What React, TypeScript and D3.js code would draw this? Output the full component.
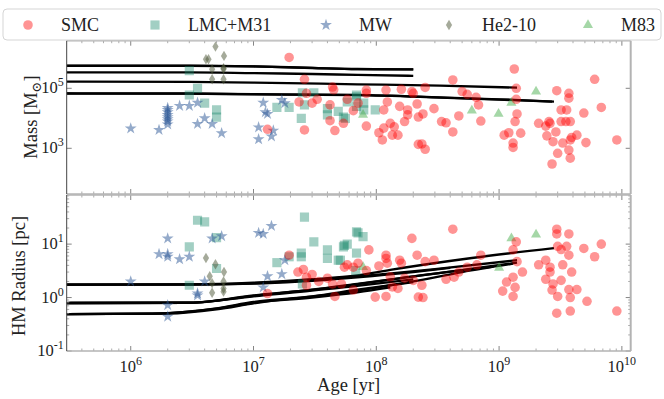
import React from 'react';
import * as d3 from 'd3';

const W = 664;
const H = 399;

// [age (yr), mass (Msun)]
const smcMass = [
  [1.95e7, 1.07e6], [2.6e7, 2.0e5], [2.7e7, 6.8e4], [2.35e7, 3.5e4], [3.0e7, 3.2e4], [3.3e7, 4.3e4],
  [2.6e7, 4.1e3], [1.3e7, 4.3e3], [4.2e7, 2.8e4], [4.4e7, 1.1e5], [4.5e7, 8.9e4], [4.2e7, 8.3e3],
  [4.6e7, 3.9e3], [5.4e7, 6.8e3], [5.8e7, 4.3e4], [6.5e7, 1.8e4], [7.1e7, 3.2e4], [8.3e7, 8.7e4],
  [8.3e7, 6.8e4], [8.3e7, 5.5e3], [1.2e8, 8.7e4], [1.23e8, 3.5e4], [1.15e8, 1.9e4], [1.05e8, 3.3e3],
  [1.15e8, 4.7e3], [1.12e8, 1.9e3], [1.3e8, 6.8e3], [1.35e8, 2.75e3], [1.4e8, 5.2e3], [1.5e8, 2.75e3],
  [1.55e8, 2.5e4], [1.6e8, 9.3e4], [1.7e8, 7.8e3], [1.8e8, 1.9e4], [1.8e8, 1.3e4], [1.95e8, 7.8e4],
  [2.0e8, 6.8e4], [2.15e8, 3.0e4], [2.2e8, 1.1e4], [2.4e8, 1.4e4], [2.5e8, 1.07e5], [2.2e8, 1.35e3],
  [2.35e8, 1.4e3], [2.5e8, 9.3e2], [2.95e8, 2.1e4], [3.4e8, 7.8e3], [3.7e8, 7.1e3], [4.2e8, 3.5e3],
  [4.2e8, 1.9e5], [4.7e8, 1.2e4], [5.0e8, 7.8e4], [5.5e8, 6.3e4], [6.5e8, 5.0e4], [6.8e8, 2.8e4],
  [7.1e8, 8.1e3], [1.1e9, 2.75e3], [1.2e9, 3.3e3], [1.3e9, 1.5e3], [1.3e9, 1.07e3], [1.33e9, 4.4e5],
  [1.38e9, 1.0e5], [1.38e9, 4.3e4], [1.35e9, 7.8e3], [1.4e9, 1.4e4], [1.5e9, 3.2e3], [2.1e9, 6.8e3],
  [2.4e9, 5.5e3], [2.45e9, 2.6e3], [2.6e9, 6.8e3], [2.7e9, 3.0e2], [2.75e9, 1.66e3], [2.9e9, 3.5e3],
  [2.95e9, 8.3e4], [3.0e9, 6.8e2], [3.2e9, 7.8e3], [3.2e9, 1.9e4], [3.3e9, 1.5e3], [3.5e9, 7.8e3],
  [3.55e9, 1.9e4], [3.7e9, 6.8e4], [3.7e9, 4.7e4], [3.7e9, 8.7e2], [3.8e9, 4.7e2], [3.8e9, 1.9e3],
  [3.8e9, 7.8e3], [3.9e9, 2.3e3], [4.3e9, 2.75e3], [4.9e9, 1.5e4], [5.1e9, 1.55e3], [6.0e9, 2.0e5],
  [6.8e9, 2.3e4], [9.1e9, 1.9e3], [2.55e9, 7.8e3],
];
const lmcMass = [
  [3.0e6, 3.9e5], [3.5e6, 1.0e5], [3.0e6, 6.0e4], [4.0e6, 3.2e4], [5.0e6, 1.9e4], [5.0e6, 1.1e4],
  [1.55e7, 2.3e4], [1.95e7, 2.3e4], [2.5e7, 7.1e4], [3.1e7, 7.1e4], [2.45e7, 1.0e4], [2.6e7, 2.8e4],
  [4.0e7, 2.1e4], [4.0e7, 1.3e4], [4.9e7, 1.7e4], [5.6e7, 1.0e4], [6.9e7, 6.0e4], [6.9e7, 2.5e4],
  [6.9e7, 5.2e4], [7.9e7, 3.2e4], [7.9e7, 1.9e4], [5.4e7, 1.1e4], [9.8e7, 1.9e4], [5.8e7, 3.5e4],
];
const mwMass = [
  [1.0e6, 4.6e3], [1.7e6, 4.1e3], [2.0e6, 2.2e4], [2.0e6, 1.9e4], [2.0e6, 1.6e4], [2.0e6, 1.3e4],
  [2.0e6, 1.1e4], [2.0e6, 9.3e3], [2.0e6, 7.9e3], [2.0e6, 6.3e3], [2.5e6, 2.6e4], [3.0e6, 2.6e4],
  [3.5e6, 3.3e4], [4.0e6, 1.0e4], [3.5e6, 6.5e3], [4.6e6, 6.5e3], [5.5e6, 3.2e3], [1.1e7, 5.0e3],
  [1.1e7, 2.0e3], [1.2e7, 3.3e4], [1.3e7, 1.4e4], [1.25e7, 1.6e4], [1.4e7, 2.5e3], [1.45e7, 3.9e3],
  [1.7e7, 4.1e4], [1.8e7, 3.2e4],
];
const he210Mass = [
  [4.9e6, 2.45e6], [4.1e6, 9.3e5], [4.3e6, 9.3e5], [5.75e6, 1.2e6], [5.7e6, 4.7e5], [4.6e6, 4.3e5],
  [4.6e6, 2.0e5], [5.7e6, 2.0e5], [5.7e6, 4.4e5],
];
const m83Mass = [[6.0e8, 1.8e4], [9.9e8, 1.4e4], [1.26e9, 3.3e4], [2.0e9, 7.8e4], [7.8e7, 1.3e4]];

// [age (yr), half-mass radius (pc)]
const smcRadius = [
  [1.95e7, 6.2], [2.55e7, 3.35], [2.3e7, 3.0], [2.7e7, 2.4], [3.0e7, 2.7], [2.7e7, 1.7], [3.4e7, 2.0],
  [4.0e7, 2.3], [4.6e7, 1.05], [4.4e7, 1.8], [1.3e7, 1.19], [5.2e7, 1.8], [5.8e7, 4.1], [6.5e7, 3.7],
  [6.5e7, 1.38], [7.1e7, 4.4], [5.5e7, 3.7], [8.7e7, 7.8], [8.3e7, 3.2], [9.8e7, 1.02], [1.05e8, 3.9],
  [1.2e8, 6.2], [1.2e8, 5.4], [1.2e8, 1.05], [1.23e8, 4.4], [1.3e8, 2.45], [1.35e8, 1.58], [1.5e8, 1.48],
  [1.55e8, 5.0], [1.6e8, 4.4], [1.7e8, 2.3], [1.95e8, 12.8], [2.0e8, 2.1], [2.15e8, 6.2], [2.2e8, 1.02],
  [2.4e8, 1.0], [2.35e8, 1.7], [2.5e8, 4.7], [2.95e8, 5.0], [3.7e8, 2.2], [4.2e8, 19], [4.3e8, 2.4],
  [4.7e8, 3.0], [5.5e8, 3.7], [6.6e8, 4.1], [7.1e8, 6.2], [1.07e9, 1.32], [1.15e9, 1.95], [1.3e9, 1.05],
  [1.3e9, 2.4], [1.35e9, 1.55], [1.38e9, 11], [1.3e9, 7.8], [1.4e9, 4.7], [1.55e9, 3.0], [2.1e9, 4.1],
  [2.4e9, 5.0], [2.4e9, 2.2], [2.6e9, 3.7], [2.6e9, 3.0], [2.7e9, 1.38], [2.75e9, 1.8], [2.95e9, 19],
  [2.95e9, 15.5], [3.0e9, 9.1], [3.0e9, 1.05], [2.95e9, 0.51], [3.2e9, 7.9], [3.2e9, 2.1], [3.3e9, 4.1],
  [3.55e9, 9.1], [3.7e9, 15.5], [3.7e9, 6.2], [3.7e9, 1.41], [3.8e9, 1.0], [3.8e9, 0.56], [3.9e9, 3.0],
  [4.3e9, 1.41], [4.9e9, 8.3], [5.2e9, 0.85], [6.0e9, 5.8], [6.8e9, 10], [9.1e9, 0.56],
];
const lmcRadius = [
  [3.5e6, 28], [4.0e6, 26], [3.0e6, 8.9], [5.0e6, 13.2], [5.0e6, 3.5], [3.0e6, 1.7], [2.6e7, 32],
  [3.1e7, 11], [2.45e7, 6.8], [2.45e7, 5.8], [1.55e7, 4.5], [1.95e7, 5.8], [4.0e7, 7.8], [4.0e7, 5.4],
  [4.9e7, 5.0], [5.4e7, 8.9], [5.8e7, 10], [6.9e7, 17], [6.9e7, 6.8], [6.8e7, 3.2], [2.5e7, 1.8],
  [7.1e7, 16.2], [7.8e7, 13.8], [5.5e7, 9.5], [5.1e7, 5.0],
];
const mwRadius = [
  [1.0e6, 2.0], [2.0e6, 12.8], [1.7e6, 6.5], [2.0e6, 6.5], [2.0e6, 5.8], [2.5e6, 5.2], [3.0e6, 5.8],
  [2.0e6, 0.72], [2.0e6, 0.44], [3.5e6, 1.1], [3.5e6, 1.2], [4.0e6, 2.0], [4.6e6, 12.8], [5.5e6, 14.1],
  [1.1e7, 16.2], [1.2e7, 15.5], [1.4e7, 21.9], [1.3e7, 2.5], [1.2e7, 1.55], [1.7e7, 2.75], [1.8e7, 5.0],
];
const he210Radius = [
  [4.1e6, 5.5], [4.9e6, 4.2], [5.75e6, 3.0], [4.4e6, 2.5], [4.6e6, 1.86], [4.6e6, 1.23], [5.7e6, 1.48],
  [5.7e6, 1.29], [5.7e6, 2.0],
];
const m83Radius = [[1.26e9, 12.8], [2.0e9, 15.1], [1.0e9, 3.6], [7.8e7, 3.7]];

// model tracks
const massTracks = [
  [[3e5, 5.7e5], [3e6, 5.7e5], [1e7, 5.4e5], [3e7, 4.8e5], [7e7, 4.4e5], [2e8, 4.3e5]],
  [[3e5, 5.6e5], [3e6, 5.6e5], [1e7, 5.35e5], [3e7, 4.75e5], [7e7, 4.35e5], [2e8, 4.25e5]],
  [[3e5, 3.4e5], [3e6, 3.4e5], [1e7, 3.2e5], [3e7, 3.0e5], [7e7, 2.8e5], [2e8, 2.6e5]],
  [[3e5, 1.66e5], [3e6, 1.64e5], [1e7, 1.55e5], [7e7, 1.36e5], [3.3e8, 1.22e5], [1.4e9, 1.05e5]],
  [[3e5, 6.8e4], [3e6, 6.7e4], [1e7, 6.4e4], [7e7, 6.0e4], [3.3e8, 5.0e4], [1e9, 4.3e4], [2.8e9, 3.6e4]],
  [[3e5, 6.7e4], [3e6, 6.6e4], [1e7, 6.3e4], [7e7, 5.9e4], [3.3e8, 4.9e4], [1e9, 4.2e4], [2.7e9, 3.6e4]],
];
const radiusTracks = [
  [[3e5, 1.75], [3e6, 1.77], [1e7, 1.9], [3e7, 2.2], [7e7, 2.6], [1.3e8, 3.3], [6e8, 5.5], [2.8e9, 8.4]],
  [[3e5, 1.75], [3e6, 1.76], [1e7, 1.85], [7e7, 2.5], [3e8, 3.4], [1.4e9, 5.0]],
  [[3e5, 1.75], [3e6, 1.75], [1e7, 1.82], [7e7, 2.4], [2e8, 3.0], [4e8, 3.6]],
  [[3e5, 0.79], [3e6, 0.8], [1e7, 1.1], [3e7, 1.4], [7e7, 1.8], [3e8, 2.8], [1.4e9, 4.5]],
  [[3e5, 0.79], [3e6, 0.8], [1e7, 1.05], [7e7, 1.65], [2e8, 2.2]],
  [[3e5, 0.79], [3e6, 0.8], [1e7, 1.08], [5e7, 1.6], [2e8, 2.5], [9e8, 3.8]],
  [[3e5, 0.49], [1.5e6, 0.5], [5e6, 0.63], [1e7, 0.83], [3e7, 1.05], [7e7, 1.4], [2e8, 1.95]],
  [[3e5, 0.49], [1.5e6, 0.5], [5e6, 0.62], [1e7, 0.8], [3e7, 1.0], [7e7, 1.25], [1.3e8, 1.55]],
  [[3e5, 0.49], [2e6, 0.5], [5e6, 0.6], [1e7, 0.78], [5e7, 1.2], [2e8, 2.0], [5e8, 3.0], [1.3e9, 4.3]],
];

const xMajor = [1e6, 1e7, 1e8, 1e9, 1e10];
const massMajor = [1e3, 1e5];
const radiusMajor = [1e-1, 1e0, 1e1];
const legendNames = ['SMC', 'LMC+M31', 'MW', 'He2-10', 'M83'];

const FONT = '"Liberation Serif", "DejaVu Serif", serif';
const SPINE = '#b3b3b3';

const thinDiamond = (s: number) => `M0,${-s}L${s * 0.6},0L0,${s}L${-s * 0.6},0Z`;
const markers: Record<string, { path: string; fill: string; op: number }> = {
  SMC: { path: d3.symbol(d3.symbolCircle, 72)() as string, fill: 'red', op: 0.42 },
  'LMC+M31': { path: d3.symbol(d3.symbolSquare, 84)() as string, fill: '#17876a', op: 0.4 },
  MW: { path: d3.symbol(d3.symbolStar, 44)() as string, fill: '#2a5595', op: 0.5 },
  'He2-10': { path: thinDiamond(5.2), fill: '#4b5535', op: 0.5 },
  M83: { path: d3.symbol(d3.symbolTriangle, 44)() as string, fill: '#4caf50', op: 0.5 },
};

const x = d3.scaleLog().domain([3.01e5, 1.18e10]).range([66.7, 630.7]);
const yMass = d3.scaleLog().domain([30, 3.86e6]).range([194, 40.7]);
const yRad = d3.scaleLog().domain([0.1, 83]).range([351, 195]);

const minorTicks = (dom: number[]) => {
  const out: number[] = [];
  for (let e = Math.floor(Math.log10(dom[0])); e <= Math.ceil(Math.log10(dom[1])); e++) {
    for (let k = 2; k <= 9; k++) {
      const v = k * Math.pow(10, e);
      if (v > dom[0] && v < dom[1]) out.push(v);
    }
  }
  return out;
};

const Pow = ({ v, ...rest }: any) => {
  const e = Math.round(Math.log10(v));
  return (
    <text {...rest} fontFamily={FONT} fontSize={16.5} fill="#222">
      10<tspan dy={-7} fontSize={12}>{e}</tspan>
    </text>
  );
};

const Panel = ({ y, series, tracks, major, minor, id }: any) => {
  const [y0, y1] = y.range();
  const [x0, x1] = x.range();
  const line = d3.line<number[]>().x((d) => x(d[0])).y((d) => y(d[1])).curve(d3.curveMonotoneX);
  return (
    <g>
      <defs>
        <clipPath id={id}>
          <rect x={x0} y={y1} width={x1 - x0} height={y0 - y1} />
        </clipPath>
      </defs>
      <g clipPath={`url(#${id})`}>
        {tracks.map((t: number[][], i: number) => (
          <path key={i} d={line(t) as string} fill="none" stroke="#000" strokeWidth={2.3} />
        ))}
        {series.map(([name, data]: any) =>
          data.map((d: number[], i: number) => (
            <path
              key={name + i}
              d={markers[name].path}
              transform={`translate(${x(d[0])},${y(d[1])})`}
              fill={markers[name].fill}
              fillOpacity={markers[name].op}
            />
          ))
        )}
      </g>
      {xMajor.map((v) => (
        <g key={'xM' + v} stroke="#777" strokeWidth={0.9}>
          <line x1={x(v)} x2={x(v)} y1={y0} y2={y0 - 5} />
          <line x1={x(v)} x2={x(v)} y1={y1} y2={y1 + 5} />
        </g>
      ))}
      {minorTicks(x.domain()).map((v) => (
        <g key={'xm' + v} stroke="#888" strokeWidth={0.7}>
          <line x1={x(v)} x2={x(v)} y1={y0} y2={y0 - 2.5} />
          <line x1={x(v)} x2={x(v)} y1={y1} y2={y1 + 2.5} />
        </g>
      ))}
      {major.map((v: number) => (
        <g key={'yM' + v} stroke="#777" strokeWidth={0.9}>
          <line x1={x0} x2={x0 + 5} y1={y(v)} y2={y(v)} />
          <line x1={x1} x2={x1 - 5} y1={y(v)} y2={y(v)} />
        </g>
      ))}
      {minor.map((v: number) => (
        <g key={'ym' + v} stroke="#888" strokeWidth={0.7}>
          <line x1={x0} x2={x0 + 2.5} y1={y(v)} y2={y(v)} />
          <line x1={x1} x2={x1 - 2.5} y1={y(v)} y2={y(v)} />
        </g>
      ))}
      {major.map((v: number) => (
        <Pow key={'yl' + v} v={v} x={x0 - 3} y={y(v) + 5} textAnchor="end" />
      ))}
      <line x1={x0} x2={x1} y1={y1} y2={y1} stroke={SPINE} strokeWidth={1.6} />
      <line x1={x0} x2={x1} y1={y0} y2={y0} stroke={SPINE} strokeWidth={1.6} />
      <line x1={x1} x2={x1} y1={y1} y2={y0} stroke={SPINE} strokeWidth={2} />
      <line x1={x0} x2={x0} y1={y1} y2={y0} stroke="#444" strokeWidth={1} />
    </g>
  );
};

export default function App() {
  const legendX = [28, 155, 326, 449, 588];
  return (
    <svg width={W} height={H} style={{ position: 'absolute', left: 0, top: 0, background: '#fff' }}>
      <Panel
        id="clipTop"
        y={yMass}
        major={massMajor}
        minor={[]}
        tracks={massTracks}
        series={[
          ['LMC+M31', lmcMass],
          ['MW', mwMass],
          ['He2-10', he210Mass],
          ['M83', m83Mass],
          ['SMC', smcMass],
        ]}
      />
      <Panel
        id="clipBot"
        y={yRad}
        major={radiusMajor}
        minor={minorTicks(yRad.domain())}
        tracks={radiusTracks}
        series={[
          ['LMC+M31', lmcRadius],
          ['MW', mwRadius],
          ['He2-10', he210Radius],
          ['M83', m83Radius],
          ['SMC', smcRadius],
        ]}
      />
      {xMajor.map((v) => (
        <Pow key={'xl' + v} v={v} x={x(v)} y={372} textAnchor="middle" />
      ))}
      <text x={348.7} y={391} textAnchor="middle" fontFamily={FONT} fontSize={18.5} fill="#222">
        Age [yr]
      </text>
      <text transform="translate(37,117) rotate(-90)" textAnchor="middle" fontFamily={FONT} fontSize={18.5} fill="#222">
        Mass [M<tspan fontSize={13} dy={4}>⊙</tspan><tspan dy={-4}>]</tspan>
      </text>
      <text transform="translate(25,276) rotate(-90)" textAnchor="middle" fontFamily={FONT} fontSize={18.5} fill="#222">
        HM Radius [pc]
      </text>
      <rect x={3} y={9} width={658} height={31} rx={4} fill="#fff" fillOpacity={0.85} stroke="#d5d5d5" />
      {legendNames.map((n, i) => (
        <g key={n}>
          <path
            d={markers[n].path}
            transform={`translate(${legendX[i]},25)`}
            fill={markers[n].fill}
            fillOpacity={markers[n].op}
          />
          <text x={legendX[i] + 33} y={31} fontFamily={FONT} fontSize={18} fill="#222">
            {n}
          </text>
        </g>
      ))}
    </svg>
  );
}
